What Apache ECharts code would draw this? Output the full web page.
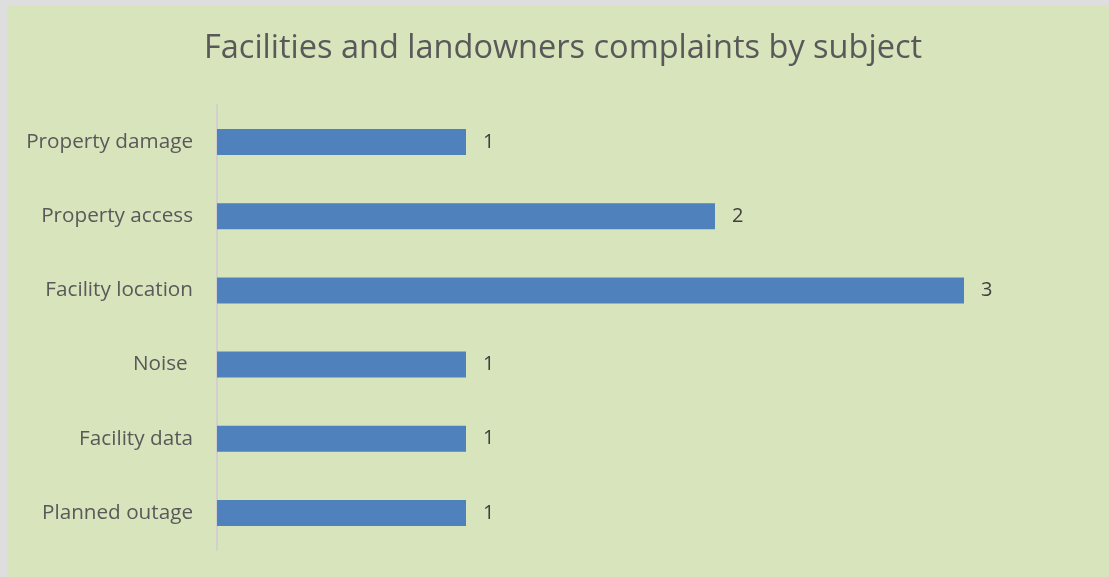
<!DOCTYPE html>
<html>
<head>
<meta charset="utf-8">
<script src="https://cdn.jsdelivr.net/npm/echarts@6/dist/echarts.min.js"></script>
<style>
html,body{margin:0;padding:0;background:#dedede;width:1109px;height:577px;overflow:hidden;}
#chart{position:absolute;left:7px;top:5px;width:1102px;height:572px;background:#d8e4bc;}
</style>
</head>
<body>
<div id="chart"></div>
<script>
const titleText = "Facilities and landowners complaints by subject";
const categories = ["Planned outage", "Facility data", "Noise ", "Facility location", "Property access", "Property damage"];
const values = [1, 1, 1, 3, 2, 1];

const chart = echarts.init(document.getElementById('chart'));
chart.setOption({
  backgroundColor: '#d8e4bc',
  animation: false,
  title: {
    text: titleText,
    left: 192,
    top: 22,
    textStyle: {fontFamily: 'Open Sans', fontSize: 32.5, fontWeight: 'normal', color: '#595959'}
  },
  grid: {left: 210, top: 100, width: 871.5, height: 445, containLabel: false},
  xAxis: {
    type: 'value', min: 0, max: 3.5, show: false
  },
  yAxis: {
    type: 'category',
    data: categories,
    axisLine: {show: true, lineStyle: {color: '#d0d0d0', width: 2}},
    axisTick: {show: false},
    axisLabel: {margin: 24, fontFamily: 'Open Sans', fontSize: 20.7, color: '#595959'}
  },
  series: [{
    type: 'bar',
    data: values,
    barWidth: 26,
    itemStyle: {color: '#4f81bd'},
    label: {show: true, position: 'right', distance: 17, fontFamily: 'Open Sans', fontSize: 20, color: '#404040'}
  }]
});
</script>
</body>
</html>
